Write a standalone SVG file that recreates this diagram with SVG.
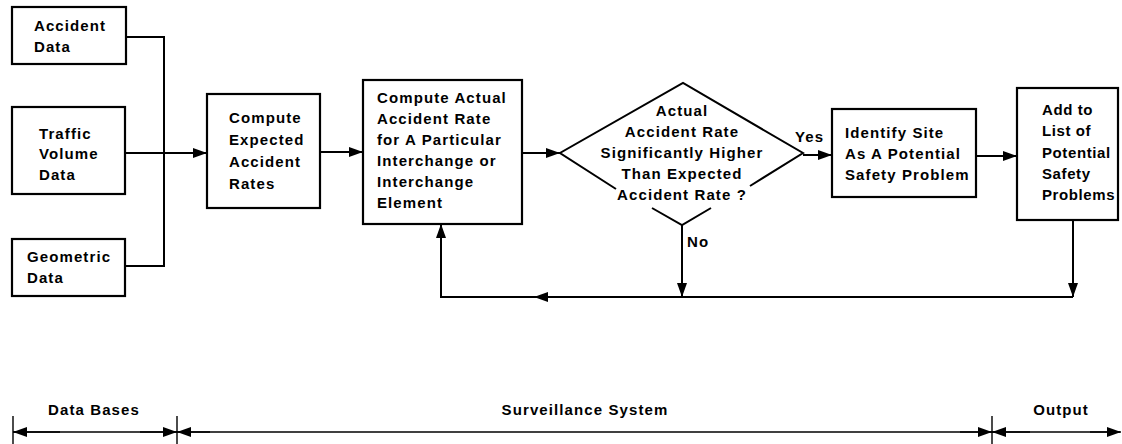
<svg xmlns="http://www.w3.org/2000/svg" width="1122" height="444" viewBox="0 0 1122 444">
<style>
  .box { fill: #fff; stroke: #000; stroke-width: 2.2; }
  .t { font-family: "Liberation Sans", Arial, sans-serif; font-weight: bold; font-size: 15px; letter-spacing: 1.1px; fill: #000; }
  .n { letter-spacing: 0.6px; }
  .c { text-anchor: middle; }
  .ln { fill: none; stroke: #000; stroke-width: 2; }
  .dim { fill: none; stroke: #000; stroke-width: 1.4; }
</style>
<defs>
  <marker id="ah" markerUnits="userSpaceOnUse" markerWidth="15" markerHeight="11" refX="14" refY="5.5" orient="auto">
    <path d="M0,0.5 L14,5.5 L0,10.5 Z" fill="#000"/>
  </marker>
</defs>
<rect width="1122" height="444" fill="#fff"/>

<g id="connectors">
  <path class="ln" d="M126,37 H164 V266 H125"/>
  <path class="ln" d="M125,153 H207" marker-end="url(#ah)"/>
  <path class="ln" d="M320,152 H363" marker-end="url(#ah)"/>
  <path class="ln" d="M522,153 H560" marker-end="url(#ah)"/>
  <path class="ln" d="M803,155 H832" marker-end="url(#ah)"/>
  <path class="ln" d="M976,156 H1017" marker-end="url(#ah)"/>
  <path class="ln" d="M682,225 V297" marker-end="url(#ah)"/>
  <path class="ln" d="M1073,220 V297" marker-end="url(#ah)"/>
  <path class="ln" d="M1073,297 H441 V224" marker-end="url(#ah)"/>
  <path class="ln" d="M562,297 H534" marker-end="url(#ah)"/>
  <text class="t" x="795" y="142">Yes</text>
  <text class="t" x="687" y="247">No</text>
</g>

<g id="accident-data">
  <rect class="box" x="12" y="7" width="114" height="57"/>
  <text class="t" x="34" y="31">Accident</text>
  <text class="t" x="34" y="52">Data</text>
</g>
<g id="traffic-volume-data">
  <rect class="box" x="12" y="107" width="113" height="87"/>
  <text class="t" x="39" y="139">Traffic</text>
  <text class="t" x="39" y="159">Volume</text>
  <text class="t" x="39" y="180">Data</text>
</g>
<g id="geometric-data">
  <rect class="box" x="12" y="239" width="113" height="57"/>
  <text class="t" x="27" y="262">Geometric</text>
  <text class="t" x="27" y="283">Data</text>
</g>
<g id="compute-expected">
  <rect class="box" x="207" y="94" width="113" height="114"/>
  <text class="t" x="229" y="123">Compute</text>
  <text class="t" x="229" y="145">Expected</text>
  <text class="t" x="229" y="167">Accident</text>
  <text class="t" x="229" y="189">Rates</text>
</g>
<g id="compute-actual">
  <rect class="box" x="363" y="80" width="159" height="144"/>
  <text class="t" x="377" y="103">Compute Actual</text>
  <text class="t" x="377" y="124">Accident Rate</text>
  <text class="t" x="377" y="145">for A Particular</text>
  <text class="t" x="377" y="166">Interchange or</text>
  <text class="t" x="377" y="187">Interchange</text>
  <text class="t" x="377" y="208">Element</text>
</g>
<g id="decision">
  <path class="ln" d="M616,189 L560,153 L683,83 L803,153 L750,186"/>
  <path class="ln" d="M652,208 L682,225 L711,208"/>
  <text class="t c" x="682" y="116">Actual</text>
  <text class="t c" x="682" y="137">Accident Rate</text>
  <text class="t c" x="682" y="158">Significantly Higher</text>
  <text class="t c" x="682" y="179">Than Expected</text>
  <text class="t c" x="682" y="200">Accident Rate ?</text>
</g>
<g id="identify-site">
  <rect class="box" x="832" y="109" width="144" height="88"/>
  <text class="t" x="845" y="138">Identify Site</text>
  <text class="t" x="845" y="159">As A Potential</text>
  <text class="t" x="845" y="180">Safety Problem</text>
</g>
<g id="add-to-list">
  <rect class="box" x="1017" y="88" width="101" height="132"/>
  <text class="t n" x="1042" y="115">Add to</text>
  <text class="t n" x="1042" y="136">List of</text>
  <text class="t n" x="1042" y="158">Potential</text>
  <text class="t n" x="1042" y="179">Safety</text>
  <text class="t n" x="1042" y="200">Problems</text>
</g>

<g id="phase-scale">
  <path class="dim" d="M13,432 H1120"/>
  <path class="dim" d="M13,416 V444 M177,416 V444 M992,416 V444"/>
  <path class="dim" d="M60,432 H13" marker-end="url(#ah)"/>
  <path class="dim" d="M140,432 H177" marker-end="url(#ah)"/>
  <path class="dim" d="M210,432 H177" marker-end="url(#ah)"/>
  <path class="dim" d="M960,432 H992" marker-end="url(#ah)"/>
  <path class="dim" d="M1030,432 H992" marker-end="url(#ah)"/>
  <path class="dim" d="M1090,432 H1121" marker-end="url(#ah)"/>
  <text class="t c" x="94" y="415">Data Bases</text>
  <text class="t c" x="585" y="415">Surveillance System</text>
  <text class="t c" x="1061" y="415">Output</text>
</g>
</svg>
